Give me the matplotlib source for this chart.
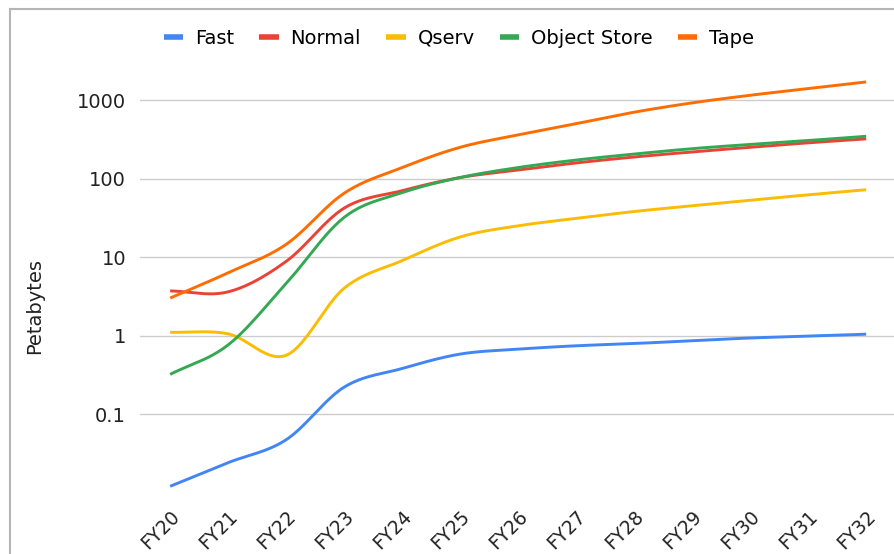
import numpy as np
import matplotlib.pyplot as plt
from matplotlib.lines import Line2D

years = ['FY20', 'FY21', 'FY22', 'FY23', 'FY24', 'FY25', 'FY26',
         'FY27', 'FY28', 'FY29', 'FY30', 'FY31', 'FY32']
fast = [0.012, 0.024, 0.047, 0.22, 0.38, 0.58, 0.67, 0.74, 0.79, 0.86, 0.93, 0.98, 1.04]
normal = [3.7, 3.6, 8.8, 42, 70, 103, 128, 158, 188, 218, 250, 285, 320]
qserv = [1.1, 1.05, 0.56, 4.0, 9.0, 18, 25, 31, 38, 45, 53, 62, 72]
object_store = [0.32, 0.76, 4.6, 32, 66, 103, 138, 172, 205, 240, 272, 305, 345]
tape = [3.0, 6.3, 14.5, 65, 138, 250, 360, 500, 700, 920, 1150, 1400, 1700]

series = [('Fast', fast, '#4285f4'),
          ('Normal', normal, '#ea4335'),
          ('Qserv', qserv, '#fbbc04'),
          ('Object Store', object_store, '#34a853'),
          ('Tape', tape, '#ff6d01')]


def smooth(vals, n=24):
    # cubic hermite through the points, in log space
    y = np.log10(vals)
    m = np.gradient(y)
    xs, ys = [], []
    for i in range(len(y) - 1):
        t = np.linspace(0, 1, n, endpoint=False)
        h00 = 2 * t**3 - 3 * t**2 + 1
        h10 = t**3 - 2 * t**2 + t
        h01 = -2 * t**3 + 3 * t**2
        h11 = t**3 - t**2
        xs.append(i + t)
        ys.append(h00 * y[i] + h10 * m[i] + h01 * y[i + 1] + h11 * m[i + 1])
    xs.append([len(y) - 1])
    ys.append([y[-1]])
    return np.concatenate(xs), 10 ** np.concatenate(ys)


plt.rcParams['font.family'] = ['DejaVu Sans']

fig = plt.figure(figsize=(8.94, 5.54), dpi=100)
ax = fig.add_axes([140 / 894, (554 - 492.5) / 554, 754 / 894, (492.5 - 76.4) / 554])

for name, vals, color in series:
    xs, ys = smooth(vals)
    ax.plot(xs, ys, color=color, lw=2.1, solid_capstyle='butt')

ax.set_yscale('log')
ax.set_ylim(0.01, 2000)
ax.set_xlim(-0.52, 12.48)
ax.set_yticks([0.1, 1, 10, 100, 1000])
ax.set_yticklabels(['0.1', '1', '10', '100', '1000'])
ax.yaxis.set_minor_locator(plt.NullLocator())
ax.set_xticks(range(len(years)))
ax.set_xticklabels(years, rotation=45, ha='right', rotation_mode='anchor')
ax.tick_params(axis='both', length=0, colors='#222222')
ax.tick_params(axis='y', pad=10, labelsize=14)
ax.tick_params(axis='x', pad=10, labelsize=13.5)
ax.grid(axis='y', color='#cccccc', lw=1)
ax.set_axisbelow(True)
for s in ax.spines.values():
    s.set_visible(False)

fig.text(35 / 894, 1 - 306 / 554, 'Petabytes', rotation=90, ha='center', va='center',
         fontsize=14, color='#222222')

handles = [Line2D([], [], color=c, lw=4, solid_capstyle='butt') for _, _, c in series]
fig.legend(handles, [n for n, _, _ in series], loc='center', ncol=5,
           bbox_to_anchor=(459 / 894, 1 - 38 / 554), frameon=False,
           fontsize=14, handlelength=1.0, handletextpad=0.6, columnspacing=1.3)

# frame of the screenshot
fig.add_artist(Line2D([10 / 894, 10 / 894], [0, 1 - 9 / 554], color='#b5b5b5', lw=1.5,
                      transform=fig.transFigure))
fig.add_artist(Line2D([10 / 894, 1], [1 - 9 / 554, 1 - 9 / 554], color='#b5b5b5', lw=1.5,
                      transform=fig.transFigure))

fig.savefig('out.png', dpi=100)
